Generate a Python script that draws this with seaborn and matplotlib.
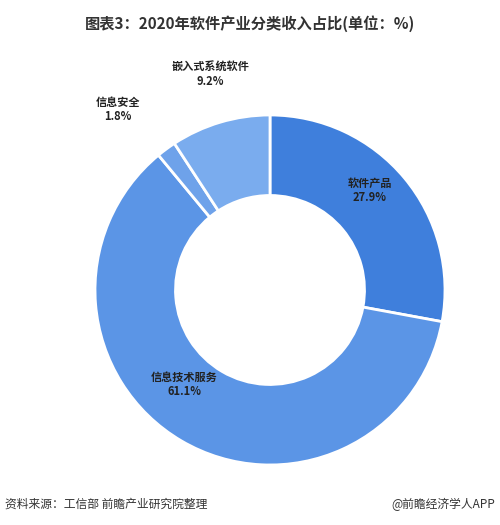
import matplotlib
matplotlib.use("Agg")
import matplotlib.pyplot as plt
import seaborn as sns

categories = ["软件产品", "信息技术服务", "信息安全", "嵌入式系统软件"]
shares = [27.9, 61.1, 1.8, 9.2]
colors = ["#3f7fdc", "#5b95e6", "#6ea2ea", "#7aacee"]
# label anchor points (axis units, radius 1 = outer edge)
label_pos = [(0.57, 0.57), (-0.49, -0.54), (-0.87, 1.03), (-0.34, 1.23)]

sns.set_theme(style="white")
plt.rcParams["font.family"] = ["Noto Sans CJK SC", "DejaVu Sans"]

fig = plt.figure(figsize=(5, 5.25), dpi=100)
ax = fig.add_axes([0.18, 0.1048, 0.72, 0.6857])
ax.pie(shares, colors=colors, startangle=90, counterclock=False,
       wedgeprops=dict(width=0.46, edgecolor="white", linewidth=2))
ax.set_xlim(-1.0286, 1.0286)
ax.set_ylim(-1.0286, 1.0286)
ax.set_aspect("equal")
ax.axis("off")

for name, val, (x, y) in zip(categories, shares, label_pos):
    ax.text(x, y, f"{name}\n{val}%", ha="center", va="center", fontsize=8,
            fontweight="bold", color="#222222", linespacing=1.1, clip_on=False)

fig.text(0.5, 0.955, "图表3：2020年软件产业分类收入占比(单位：%)", ha="center", va="center",
         fontsize=11, fontweight="bold", color="#333333")
fig.text(0.01, 0.04, "资料来源：工信部 前瞻产业研究院整理", ha="left", va="center",
         fontsize=8.5, color="#333333")
fig.text(0.99, 0.04, "@前瞻经济学人APP", ha="right", va="center",
         fontsize=8.5, color="#333333")

fig.savefig("out.png", dpi=100)
